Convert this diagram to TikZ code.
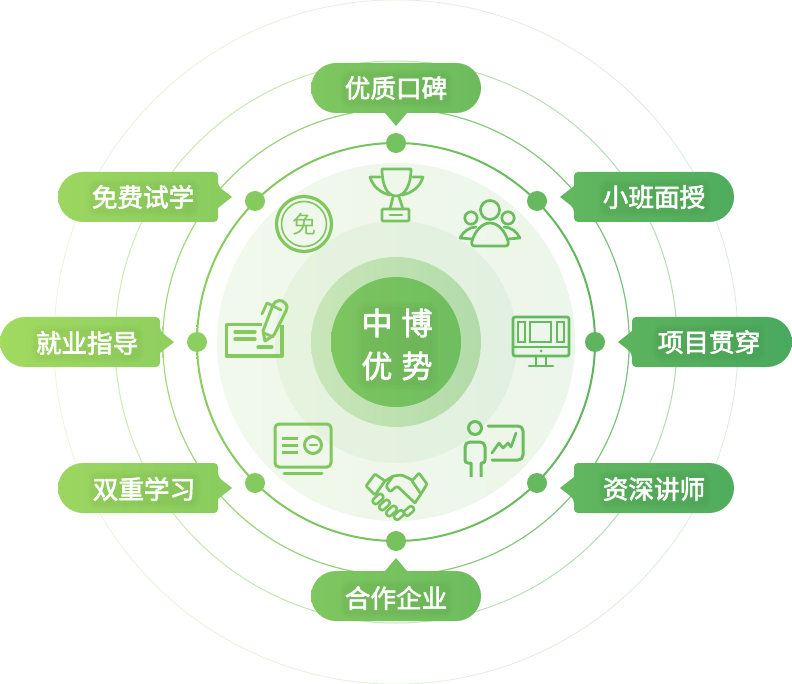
\documentclass[tikz,border=0pt]{standalone}
\usepackage{fontspec}
\usetikzlibrary{calc}
\setmainfont{Noto Sans CJK SC}
\newfontfamily\lab[FakeBold=2.4]{Noto Sans CJK SC}
\newfontfamily\thin{Noto Sans CJK SC}
\definecolor{gl}{HTML}{A2DA60}
\definecolor{gr}{HTML}{49A95E}
\definecolor{da}{HTML}{F1F8EC}
\definecolor{db}{HTML}{EDF6EA}
\definecolor{dc}{HTML}{E6F3DF}
\definecolor{dd}{HTML}{E1F0E0}
\definecolor{de}{HTML}{C9E6B8}
\definecolor{df}{HTML}{B2DBA9}
% \gc{name}{x}: colour of the picture-wide gradient at pixel column x
\newcommand{\gc}[2]{\pgfmathsetmacro{\pp}{(#2)/7.92}\colorlet{#1}{gr!\pp!gl}}
\tikzset{
  ic/.style={line width=3pt,line join=round,line cap=round,fill=none},
  icb/.style={ic,line width=2.7pt},
  labeltext/.style={font=\lab\fontsize{25.6}{25.6}\selectfont,text=white,inner sep=0pt},
}
% ring between radii #1 and #2, shaded along the picture gradient
\newcommand{\ring}[3]{\pgfmathsetmacro{\xa}{396-#1}\pgfmathsetmacro{\xb}{396+#1}%
  \gc{ca}{\xa}\gc{cb}{\xb}%
  \shade[even odd rule,left color=ca!#3,right color=cb!#3] (396,342) circle[radius=#1pt] circle[radius=#2pt];}
\newcommand{\halo}[2]{\foreach \dd/\ee in {5/10,3/8,1/6}{%
  \fill[black,opacity=.013,rounded corners=\ee pt] ($(#1)+(-51-\dd,-13-\dd)$) rectangle ($(#1)+(52+\dd,15+\dd)$);}}
\begin{document}
\begin{tikzpicture}[x=1pt,y=-1pt]
\useasboundingbox (0,0) rectangle (792,684);
\fill[white] (0,0) rectangle (792,684);
% rings
\ring{342.5}{341.7}{22}
\ring{281.5}{280.5}{45}
\ring{233.8}{232.6}{80}
% discs
\shade[left color=da,right color=db] (396,342) circle[radius=179pt];
\shade[left color=dc,right color=dd] (396,342) circle[radius=121pt];
\shade[left color=de,right color=df] (396,342) circle[radius=85pt];
\gc{ca}{331}\gc{cb}{461}
\shade[left color=ca,right color=cb] (396,342) circle[radius=65pt];
\ring{200}{198}{100}
% dots
\foreach \n/\x/\y in {dA/396/143,dB/537/201,dC/595/342,dD/537/483,dE/396/541,dF/255/483,dG/197/342,dH/255/201}{
  \gc{ca}{\x}
  \fill[ca] (\x,\y) circle[radius=10pt];
}
% top and bottom pills
\gc{ca}{311}\gc{cb}{481}
\shade[left color=ca,right color=cb] (336,63) -- (456,63) arc[start angle=90,end angle=-90,radius=25pt] -- (407,113) -- (396,126) -- (385,113) -- (336,113) arc[start angle=270,end angle=90,radius=25pt] -- cycle;
\shade[left color=ca,right color=cb] (336,571) -- (385,571) -- (396,558) -- (407,571) -- (456,571) arc[start angle=90,end angle=-90,radius=25pt] -- (336,621) arc[start angle=270,end angle=90,radius=25pt] -- cycle;
% left pills
\foreach \xl/\yt in {58/172,0/317,58/463}{
  \pgfmathsetmacro{\xr}{\xl+160}\pgfmathsetmacro{\xc}{\xl+25}\pgfmathsetmacro{\yb}{\yt+50}\pgfmathsetmacro{\ya}{\yt+14}\pgfmathsetmacro{\ym}{\yt+25}\pgfmathsetmacro{\yc}{\yt+36}\pgfmathsetmacro{\xt}{\xr+14}
  \gc{ca}{\xl}\gc{cb}{\xt}
  \shade[left color=ca,right color=cb] (\xc,\yt) [rounded corners=4pt] -- (\xr,\yt) -- (\xr,\ya) [sharp corners] -- (\xt,\ym) -- (\xr,\yc) [rounded corners=4pt] -- (\xr,\yb) [sharp corners] -- (\xc,\yb) arc[start angle=270,end angle=90,radius=25pt] -- cycle;
}
% right pills
\foreach \xl/\yt in {574/172,632/317,574/463}{
  \pgfmathsetmacro{\xr}{\xl+160}\pgfmathsetmacro{\xc}{\xl+135}\pgfmathsetmacro{\yb}{\yt+50}\pgfmathsetmacro{\ya}{\yt+14}\pgfmathsetmacro{\ym}{\yt+25}\pgfmathsetmacro{\yc}{\yt+36}\pgfmathsetmacro{\xt}{\xl-14}
  \gc{ca}{\xt}\gc{cb}{\xr}
  \shade[left color=ca,right color=cb] (\xc,\yt) arc[start angle=90,end angle=-90,radius=25pt] [rounded corners=4pt] -- (\xl,\yb) -- (\xl,\yc) [sharp corners] -- (\xt,\ym) -- (\xl,\ya) [rounded corners=4pt] -- (\xl,\yt) [sharp corners] -- cycle;
}
% labels
\foreach \n/\x/\y/\t in {lA/396/88/优质口碑,lB/654/197/小班面授,lC/709/342/项目贯穿,lD/654/489/资深讲师,lE/396/598/合作企业,lF/144/489/双重学习,lG/87/343/就业指导,lH/143/197/免费试学}{
  \halo{\x,\y}{}
  \node[labeltext] (\n) at (\x,\y) {\t};
}
% centre
\foreach \dd/\ee in {5/11,3/9,0/6}{
  \fill[black,opacity=.012,rounded corners=\ee pt] (361-\dd,307-\dd) rectangle (433+\dd,385+\dd);}
\node[font=\lab\fontsize{31}{43}\selectfont,text=white,align=center,inner sep=0pt] (centre) at (397,344.5) {中\hspace{9pt}博\\优\hspace{9pt}势};
% trophy
\gc{ci}{396}
\draw[icb,ci] (382,169) -- (411,169) (382,169) .. controls (382,185) and (387,196) .. (396,196) .. controls (405,196) and (411,185) .. (411,169);
\draw[icb,ci] (380,177) -- (370,177) .. controls (373,187) and (381,193) .. (390,195);
\draw[icb,ci] (413,177) -- (423,177) .. controls (420,187) and (412,193) .. (402,195);
\draw[icb,ci] (393,197) -- (390,209) (399,197) -- (403,209);
\draw[icb,ci,rounded corners=1pt] (382,209) rectangle (409,221);
\draw[icb,ci] (390,215) -- (402,215);
% people
\gc{ci}{490}
\draw[icb,ci] (490,210) circle[radius=9.5pt] (471,218) circle[radius=6.2pt] (508,218) circle[radius=6.2pt];
\draw[icb,ci] (475,246) -- (505,246) .. controls (508,246) and (509,244) .. (508,241) .. controls (505,231) and (498,223) .. (490,223) .. controls (482,223) and (475,231) .. (472,241) .. controls (471,244) and (472,246) .. (475,246) -- cycle;
\draw[icb,ci] (476,227) .. controls (469,227) and (463,232) .. (460,238) -- (472,239);
\draw[icb,ci] (504,227) .. controls (511,227) and (517,232) .. (520,238) -- (508,239);
% free coin
\gc{ci}{304}
\draw[ci,line width=3.2pt] (304,224) circle[radius=27.5pt];
\draw[ci,line width=1.6pt] (304,224) circle[radius=22.5pt];
\node[font=\thin\fontsize{24}{24}\selectfont,text=ci,inner sep=0pt] (freeicon) at (304,224) {免};
% cheque and pen
\gc{ci}{255}
\draw[ic,ci,line width=3.2pt,line cap=butt] (262,324.5) -- (226.5,324.5) -- (226.5,356) -- (282,356) -- (282,325);
\draw[ic,ci,line width=3.2pt] (235,332) -- (255,332) (235,339) -- (255,339) (258,347) -- (272,347);
\draw[ic,ci] (265,341) -- (263,331) -- (273,305) .. controls (275,300) and (282,299) .. (285,303) .. controls (288,306) and (287,309) .. (286,311) -- (274,335) -- cycle;
\draw[icb,ci] (262,314) -- (267,303) -- (281,310) (264,333) -- (273,337);
% monitor
\gc{ci}{541}
\draw[icb,ci,rounded corners=2pt] (513,317) rectangle (569,356);
\draw[icb,ci] (513,347) -- (569,347) (536,356) -- (536,366) (546,356) -- (546,366) (529,366) -- (553,366);
\draw[icb,ci,line join=miter] (518,322) rectangle (525,342) (530,322) rectangle (551,342) (557,322) rectangle (564,342);
\fill[ci] (541,351) circle[radius=1.5pt];
% presenter
\gc{ci}{493}
\draw[ic,ci] (475,428) circle[radius=6.5pt];
\draw[ic,ci,line cap=butt] (471,477) -- (471,463) -- (468,463) .. controls (466,463) and (465,462) .. (465,460) -- (465,447) .. controls (465,444) and (467,442) .. (470,442) -- (480,442) .. controls (483,442) and (485,444) .. (485,447) -- (485,460) .. controls (485,462) and (484,463) .. (482,463) -- (481,463) -- (481,477);
\draw[ic,ci] (488,426) -- (518,426) .. controls (521,426) and (523,428) .. (523,431) -- (523,455) .. controls (523,458) and (521,460) .. (518,460) -- (492,460);
\draw[icb,ci] (492,453) -- (499,443) -- (503,448) -- (508,443) -- (511,447) -- (516,433);
% certificate card
\gc{ci}{303}
\draw[ic,ci,rounded corners=4pt] (275,424) rectangle (331,467);
\draw[ic,ci] (284,473) -- (322,473);
\draw[ic,ci,line cap=butt] (282,438) -- (298,438) (282,445) -- (298,445) (282,452) -- (298,452);
\draw[ic,ci] (313,445) circle[radius=8.5pt];
\draw[icb,ci] (310,445) -- (317,445);
% handshake
\gc{ci}{396}
\draw[icb,ci,rounded corners=1pt] (366,486) -- (375,474) -- (385,481) -- (375,495) -- cycle;
\draw[icb,ci,rounded corners=1pt] (412,481) -- (419,473) -- (427,484) -- (421,494) -- cycle;
\draw[icb,ci,rounded corners=1.5pt] (412,480) -- (402,475) -- (393,476) -- (385,481);
\draw[icb,ci,rounded corners=1.5pt] (393,476) -- (386,486) -- (390,492) -- (397,486) -- (415,503);
\draw[icb,ci] (421,494) -- (415,503);
\foreach \cx/\cy/\ll in {378/499/6,384.5/505/6,391.5/511/6,399/515/5.5,409/511/5.5}{
  \draw[ci,line width=2.5pt,rounded corners=2.6pt,shift={(\cx,\cy)},rotate=42] (-\ll pt,-3pt) rectangle (\ll pt,3pt);
}
\end{tikzpicture}
\end{document}
